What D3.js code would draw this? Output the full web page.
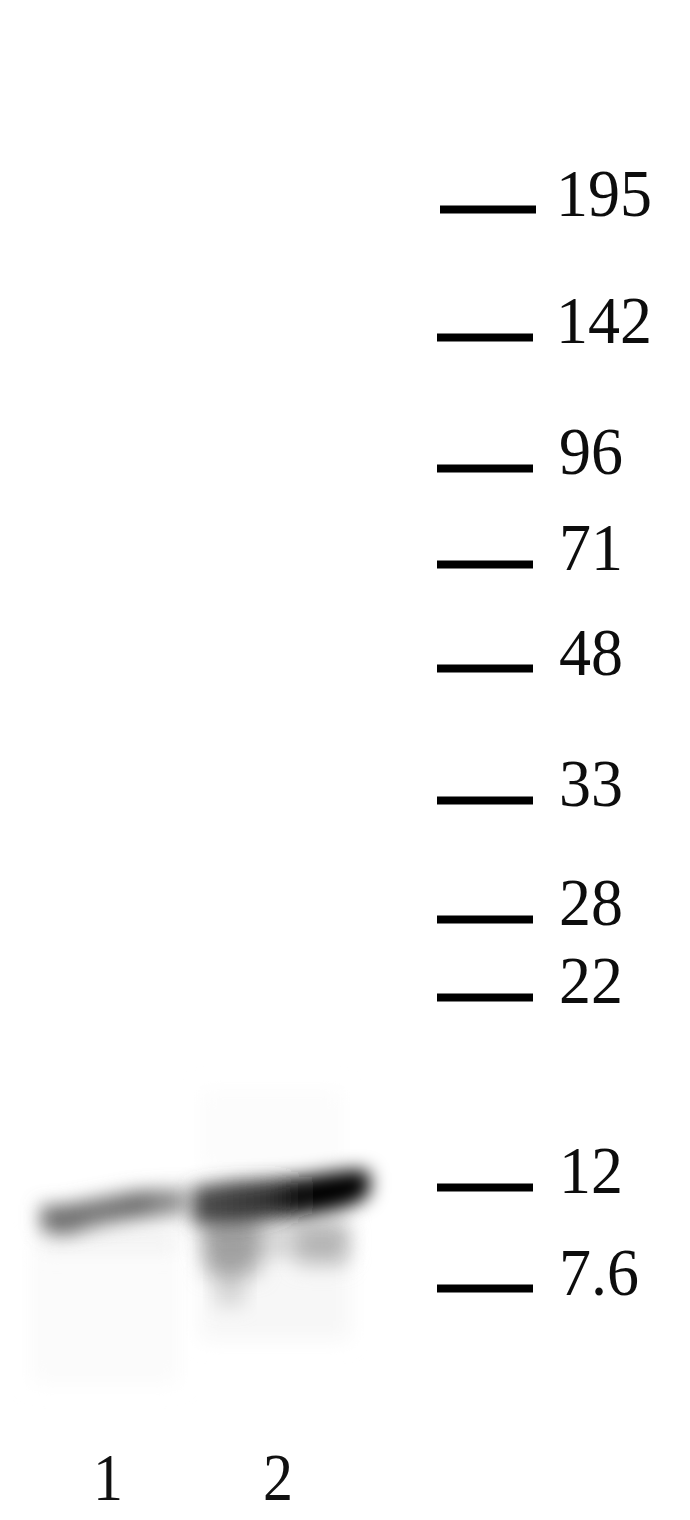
<!DOCTYPE html>
<html>
<head>
<meta charset="utf-8">
<script src="https://cdn.jsdelivr.net/npm/d3@7"></script>
<style>
  html, body { margin: 0; padding: 0; background: #fff; }
  svg { display: block; }
  text { font-family: "Liberation Serif", serif; fill: #111; }
</style>
</head>
<body>
<div id="chart"></div>
<script>
// Marker sizes (kDa) and how far each one ran on the gel (0 = top marker, 1 = bottom marker)
const markerLabels = ["195", "142", "96", "71", "48", "33", "28", "22", "12", "7.6"];
const markerMigration = [0, 0.1186, 0.24, 0.329, 0.4254, 0.5477, 0.658, 0.7303, 0.9063, 1];

const laneLabels = ["1", "2"];
const laneCentres = [108, 278];   // in gel x units

// Band traces, read along each band: x, migration, half thickness (in migration units), darkness
const band1X = [40, 62, 100, 140, 188];
const band1Migration = [0.9345, 0.9365, 0.9290, 0.9225, 0.9195];
const band1Half = [0.0115, 0.0140, 0.0130, 0.0130, 0.0120];
const band1Dark = [0.50, 0.56, 0.52, 0.56, 0.36];

const band2X = [192, 230, 270, 300, 335, 360, 370];
const band2Migration = [0.9235, 0.9210, 0.9180, 0.9150, 0.9100, 0.9050, 0.9025];
const band2Half = [0.0170, 0.0195, 0.0190, 0.0180, 0.0175, 0.0145, 0.0095];
const band2Dark = [0.68, 0.74, 0.80, 0.96, 1, 1, 1];

// Smears under/around the bands: x, migration, half width, half height (migration), darkness
const smearX = [232, 230, 322, 275, 272, 275, 105, 110];
const smearMigration = [0.9620, 0.9949, 0.9590, 0.9555, 0.8535, 1.0019, 1.0222, 0.9527];
const smearHalfW = [28, 15, 25, 75, 72, 75, 75, 70];
const smearHalfH = [0.0260, 0.0209, 0.0210, 0.0160, 0.0371, 0.0463, 0.0672, 0.0116];
const smearDark = [0.26, 0.14, 0.16, 0.14, 0.010, 0.032, 0.014, 0.04];

const width = 690, height = 1520;

const svg = d3.select("#chart")
    .append("svg")
    .attr("width", width)
    .attr("height", height);

const defs = svg.append("defs");

// Scales
const x = d3.scaleLinear().domain([0, width]).range([0, width]);
const y = d3.scaleLinear().domain([0, 1]).range([209, 1288]);
const grey = d3.scaleLinear().domain([0, 1]).range(["#ffffff", "#000000"]);

[9, 10].forEach(s => {
    defs.append("filter")
        .attr("id", "blur" + s)
        .attr("x", "-40%").attr("y", "-120%")
        .attr("width", "180%").attr("height", "340%")
        .append("feGaussianBlur")
        .attr("stdDeviation", s);
});
const soft = defs.append("filter").attr("id", "soft");
soft.append("feGaussianBlur").attr("stdDeviation", 0.6);

// Smears go in first so the bands sit on top
svg.append("g")
    .selectAll("rect")
    .data(d3.range(smearX.length))
    .join("rect")
    .attr("x", i => x(smearX[i]) - smearHalfW[i])
    .attr("y", i => y(smearMigration[i] - smearHalfH[i]))
    .attr("width", i => 2 * smearHalfW[i])
    .attr("height", i => y(2 * smearHalfH[i]) - y(0))
    .attr("fill", i => grey(smearDark[i]))
    .attr("filter", "url(#blur10)")
    .style("mix-blend-mode", "multiply");

function drawBand(id, xs, mig, half, dark) {
    const extent = d3.extent(xs);
    const grad = defs.append("linearGradient")
        .attr("id", id)
        .attr("gradientUnits", "userSpaceOnUse")
        .attr("x1", x(extent[0])).attr("x2", x(extent[1]))
        .attr("y1", 0).attr("y2", 0);
    xs.forEach((v, i) => {
        grad.append("stop")
            .attr("offset", (v - extent[0]) / (extent[1] - extent[0]))
            .attr("stop-color", grey(dark[i]));
    });
    const area = d3.area()
        .curve(d3.curveCatmullRom)
        .x(i => x(xs[i]))
        .y0(i => y(mig[i] - half[i]))
        .y1(i => y(mig[i] + half[i]));
    svg.append("path")
        .attr("d", area(d3.range(xs.length)))
        .attr("fill", `url(#${id})`)
        .attr("filter", "url(#blur9)")
        .style("mix-blend-mode", "multiply");
}
drawBand("band1", band1X, band1Migration, band1Half, band1Dark);
drawBand("band2", band2X, band2Migration, band2Half, band2Dark);

// Marker ladder
const axis = d3.axisRight(y)
    .tickValues(markerMigration)
    .tickFormat((d, i) => markerLabels[i])
    .tickSize(96)
    .tickPadding(25);

const ladder = svg.append("g")
    .attr("transform", "translate(437,0)")
    .attr("filter", "url(#soft)")
    .call(axis);

ladder.select(".domain").remove();
ladder.selectAll(".tick line")
    .attr("stroke", "#000")
    .attr("stroke-width", 8)
    .attr("x1", (d, i) => i === 0 ? 3 : 0)
    .attr("x2", (d, i) => i === 0 ? 99 : 96);
ladder.selectAll(".tick text")
    .attr("dy", null)
    .attr("font-size", 64)
    .attr("transform", "translate(0,6) scale(1,1.07)")
    .attr("x", (d, i) => i < 2 ? 119 : 122)
    .attr("y", 0);

// Lane numbers
svg.append("g")
    .selectAll("text")
    .data(laneLabels)
    .join("text")
    .attr("text-anchor", "middle")
    .attr("font-size", 60)
    .attr("transform", (d, i) => `translate(${x(laneCentres[i])},1500) scale(1,1.13)`)
    .text(d => d);
</script>
</body>
</html>
